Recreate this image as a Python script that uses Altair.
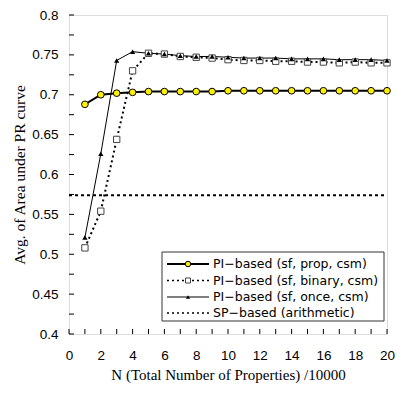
import altair as alt
import pandas as pd

N = list(range(1, 21))
prop = [0.688, 0.700, 0.702, 0.703, 0.704, 0.704, 0.704, 0.704, 0.704, 0.705,
        0.705, 0.705, 0.705, 0.705, 0.705, 0.705, 0.705, 0.705, 0.705, 0.705]
binary = [0.508, 0.554, 0.644, 0.730, 0.752, 0.751, 0.748, 0.747, 0.746, 0.744,
          0.743, 0.743, 0.742, 0.742, 0.741, 0.741, 0.740, 0.741, 0.740, 0.740]
once = [0.521, 0.626, 0.743, 0.754, 0.752, 0.751, 0.749, 0.748, 0.748, 0.747,
        0.746, 0.746, 0.746, 0.745, 0.745, 0.745, 0.744, 0.744, 0.744, 0.743]
sp_value = 0.574

labels = ["PI\u2212based (sf, prop, csm)", "PI\u2212based (sf, binary, csm)",
          "PI\u2212based (sf, once, csm)", "SP\u2212based (arithmetic)"]

x_ticks = list(range(0, 21))
x_labels = list(range(0, 21, 2))
y_ticks = [round(0.4 + 0.025 * i, 3) for i in range(17)]
y_labels = [round(0.4 + 0.05 * i, 2) for i in range(9)]

W, H = 318, 319

xs = alt.Scale(domain=[0, 20], nice=False)
ys = alt.Scale(domain=[0.4, 0.8], nice=False)

df_prop = pd.DataFrame({"N": N, "v": prop})
df_bin = pd.DataFrame({"N": N, "v": binary})
df_once = pd.DataFrame({"N": N, "v": once})
df_sp = pd.DataFrame({"v": [sp_value]})

x_axis = alt.Axis(
    values=x_labels, title="N (Total Number of Properties) /10000", grid=False,
    tickSize=0, domain=False, labelPadding=14, labelFontSize=13.5, labelFont="Liberation Sans",
    labelColor="black", labelOverlap=False, labelFlush=False,
    titleFont="Liberation Serif", titleFontSize=15, titleFontWeight="normal",
    titleColor="black", titlePadding=6)
y_axis = alt.Axis(
    values=y_labels, title="Avg. of Area under PR curve", grid=False, format=".2~f",
    tickSize=0, domain=False, labelPadding=11, labelFontSize=13.5, labelFont="Liberation Sans",
    labelColor="black", labelOverlap=False, labelFlush=False,
    titleFont="Liberation Serif", titleFontSize=15.5, titleFontWeight="normal",
    titleColor="black", titlePadding=4)

X = alt.X("N:Q", scale=xs, axis=x_axis)
Y = alt.Y("v:Q", scale=ys, axis=y_axis)

sp_line = alt.Chart(df_sp).mark_rule(color="black", strokeWidth=2, strokeDash=[3, 3]).encode(
    y=Y, x=alt.value(0), x2=alt.value(W))

bin_line = alt.Chart(df_bin).mark_line(color="black", strokeWidth=2, strokeDash=[2, 3]).encode(x=X, y=Y)
bin_pts = alt.Chart(df_bin).mark_point(shape="square", size=40, filled=True, fill="white",
                                       stroke="#444", strokeWidth=1, opacity=1).encode(x=X, y=Y)
once_line = alt.Chart(df_once).mark_line(color="black", strokeWidth=1).encode(x=X, y=Y)
once_pts = alt.Chart(df_once).mark_point(shape="triangle-up", size=28, filled=True, color="black",
                                         opacity=1).encode(x=X, y=Y)
prop_line = alt.Chart(df_prop).mark_line(color="black", strokeWidth=2).encode(x=X, y=Y)
prop_pts = alt.Chart(df_prop).mark_point(shape="circle", size=45, filled=True, fill="#FFF000",
                                         stroke="black", strokeWidth=1, opacity=1).encode(x=X, y=Y)

# inward ticks
df_xt = pd.DataFrame({"N": x_ticks})
df_yt = pd.DataFrame({"v": y_ticks})
xtick = alt.Chart(df_xt).mark_rule(color="black", strokeWidth=1).encode(
    x=X, y=alt.value(H), y2=alt.value(H - 5))
ytick = alt.Chart(df_yt).mark_rule(color="black", strokeWidth=1).encode(
    y=Y, x=alt.value(0), x2=alt.value(5))

# legend
LX0, LX1, LY0, LY1 = 93, 315, 237, 306
rows_y = [249, 265.5, 282, 298]
one = pd.DataFrame({"a": [0]})
lg_box = alt.Chart(one).mark_rect(fill="white", stroke="#333", strokeWidth=1).encode(
    x=alt.value(LX0), x2=alt.value(LX1), y=alt.value(LY0), y2=alt.value(LY1))
lg_layers = [lg_box]
line_styles = [
    dict(strokeWidth=2),
    dict(strokeWidth=1.5, strokeDash=[2, 3]),
    dict(strokeWidth=1),
    dict(strokeWidth=1.5, strokeDash=[2, 3]),
]
for i, lab in enumerate(labels):
    ry = rows_y[i]
    lg_layers.append(alt.Chart(one).mark_rule(color="black", **line_styles[i]).encode(
        x=alt.value(98), x2=alt.value(140), y=alt.value(ry)))
    lg_layers.append(alt.Chart(pd.DataFrame({"t": [lab]})).mark_text(
        align="left", baseline="middle", font="DejaVu Sans", fontSize=12.5, color="black").encode(
        x=alt.value(144), y=alt.value(ry), text="t:N"))
lg_layers.append(alt.Chart(one).mark_point(shape="circle", size=30, filled=True, fill="#FFF000",
                                           stroke="black", strokeWidth=1, opacity=1).encode(
    x=alt.value(119), y=alt.value(rows_y[0])))
lg_layers.append(alt.Chart(one).mark_point(shape="square", size=25, filled=True, fill="white",
                                           stroke="#444", strokeWidth=1, opacity=1).encode(
    x=alt.value(119), y=alt.value(rows_y[1])))
lg_layers.append(alt.Chart(one).mark_point(shape="triangle-up", size=18, filled=True, color="black",
                                           opacity=1).encode(
    x=alt.value(119), y=alt.value(rows_y[2])))

chart = alt.layer(
    sp_line, bin_line, once_line, prop_line, bin_pts, once_pts, prop_pts, xtick, ytick, *lg_layers
).properties(
    width=W, height=H,
    autosize=alt.AutoSizeParams(type="none"),
    padding={"left": 61, "top": 7, "right": 8, "bottom": 52},
).configure_view(stroke="black", strokeWidth=1).configure(background="white")

chart.save("out.html", embed_options={"renderer": "svg", "actions": False})
